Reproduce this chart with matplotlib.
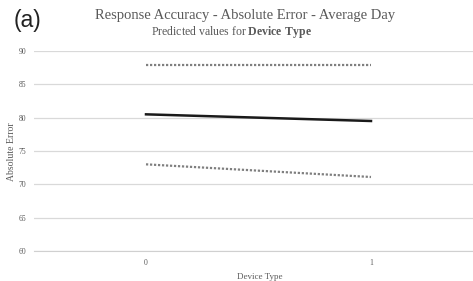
import matplotlib
matplotlib.use("Agg")
import matplotlib.pyplot as plt

device_type = [0, 1]
tick_labels = ["0", "1"]
predicted = [80.5, 79.5]
upper_ci = [87.9, 87.9]
lower_ci = [73.0, 71.1]

serif = "Liberation Serif"
grey = "#595959"
plt.rcParams["mathtext.fontset"] = "custom"
plt.rcParams["mathtext.rm"] = "Liberation Serif"
plt.rcParams["mathtext.bf"] = "Liberation Serif:bold"

fig = plt.figure(figsize=(4.73, 2.81), dpi=100)
ax = fig.add_axes([33.5 / 473, 30 / 281, 450 / 473, 200 / 281])

ax.plot(device_type, upper_ci, color="#7f7f7f", linestyle=(0, (1, 0.8)), linewidth=1.6)
ax.plot(device_type, predicted, color="#1a1a1a", linewidth=1.8)
ax.plot(device_type, lower_ci, color="#7f7f7f", linestyle=(0, (1, 0.8)), linewidth=1.6)

ax.set_xlim(-0.5, 1.5)
ax.set_ylim(60, 90)
ax.set_yticks(range(60, 91, 5))
ax.set_xticks(device_type)
ax.set_xticklabels(tick_labels)
ax.grid(axis="y", color="#d9d9d9", linewidth=0.9)
ax.set_axisbelow(True)
for side in ["top", "right", "left"]:
    ax.spines[side].set_visible(False)
ax.spines["bottom"].set_color("#d0d0d0")
ax.tick_params(length=0, labelsize=5.5, labelcolor=grey)
ax.tick_params(axis="x", pad=6)
ax.tick_params(axis="y", pad=5)
for lab in ax.get_xticklabels() + ax.get_yticklabels():
    lab.set_family(serif)

ax.set_xlabel("Device Type", fontsize=6.5, color=grey, family=serif)
ax.set_ylabel("Absolute Error", fontsize=7, color=grey, family=serif)
ax.xaxis.set_label_coords((260 - 33.5) / 450, -(273 - 251) / 200)
ax.yaxis.set_label_coords(-(33.5 - 16) / 450, (251 - 152) / 200)

fig.text(245 / 473, 1 - 16 / 281, "Response Accuracy - Absolute Error - Average Day",
         ha="center", va="center", fontsize=10.5, color=grey, family=serif)
fig.text(232 / 473, 1 - 32 / 281, r"Predicted values for $\mathbf{Device\ Type}$",
         ha="center", va="center", fontsize=8.5, color=grey, family=serif)
fig.text(14 / 473, 1 - 21 / 281, "(a)", ha="left", va="center", fontsize=16.5,
         color="#222222", family="Liberation Sans")

fig.savefig("out.png", dpi=100)
